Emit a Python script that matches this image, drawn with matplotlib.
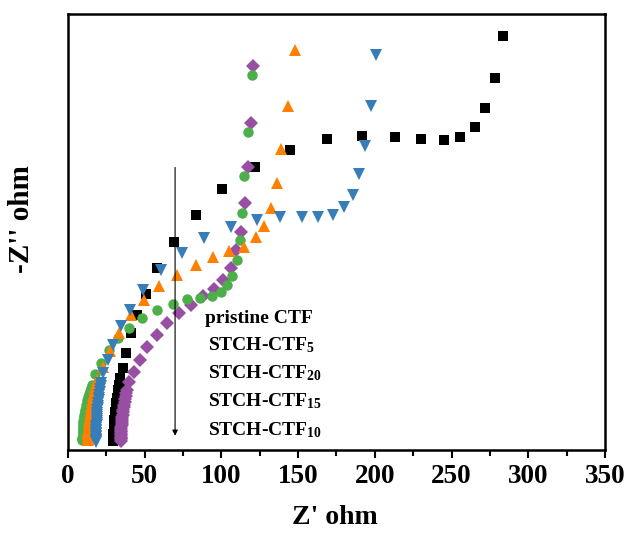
import matplotlib
matplotlib.use("Agg")
import matplotlib.pyplot as plt
from matplotlib.ticker import MultipleLocator

plt.rcParams["font.family"] = ["Liberation Serif", "DejaVu Serif"]
plt.rcParams["font.weight"] = "bold"
plt.rcParams["mathtext.fontset"] = "custom"
plt.rcParams["mathtext.rm"] = "Liberation Serif:bold"
plt.rcParams["mathtext.it"] = "Liberation Serif:bold"

# pristine CTF
x_pristine = [283.6, 278.4, 271.8, 265.3, 255.5, 245.1, 230.1, 213.2, 191.7, 168.8,
              144.7, 121.9, 100.4, 83.4, 69.1, 58.0, 50.8, 45.0, 41.1, 37.8, 35.9, 33.9,
              33.6, 33.3, 33.0, 32.8, 32.5, 32.3, 32.0, 31.8, 31.6, 31.4,
              31.2, 31.0, 30.9, 30.7, 30.6, 30.4, 30.3, 30.2, 30.1, 30.0,
              29.9, 29.8, 29.7, 29.7, 29.6, 29.5, 29.5, 29.4, 29.4, 29.3, 29.3]
y_pristine = [269.9, 242.5, 222.9, 210.6, 204.0, 202.1, 202.7, 204.0, 204.7, 202.7,
              195.6, 184.5, 170.1, 153.2, 135.6, 118.6, 101.7, 88.0, 76.3, 63.2, 53.5, 46.9,
              44.5, 42.5, 40.6, 38.8, 37.0, 35.3, 33.6, 32.0, 30.4, 28.9,
              27.4, 26.0, 24.6, 23.2, 21.9, 20.6, 19.4, 18.2, 17.0, 15.9,
              14.8, 13.7, 12.7, 11.7, 10.7, 9.8, 8.9, 8.0, 7.2, 6.4, 5.6]

# STCH-CTF5
x_ctf5 = [148.0, 143.4, 138.9, 136.2, 132.3, 127.8, 122.6, 114.7, 105.0, 94.5, 83.4,
          71.1, 59.3, 49.5, 41.1, 33.2, 27.4, 22.8, 18.9,
          18.3, 17.8, 17.3, 16.9, 16.5, 16.1, 15.8, 15.5, 15.2, 14.9,
          14.7, 14.5, 14.3, 14.1, 13.9, 13.8, 13.6, 13.5, 13.4, 13.3,
          13.2, 13.1, 13.0, 12.9, 12.9, 12.8, 12.8]
y_ctf5 = [260.8, 224.3, 196.2, 174.1, 157.8, 146.0, 138.9, 132.3, 129.7, 125.8, 120.6,
          114.1, 106.9, 97.8, 88.0, 76.3, 64.5, 54.1, 45.6,
          43.2, 41.0, 38.9, 36.9, 35.0, 33.1, 31.3, 29.6, 27.9, 26.3,
          24.7, 23.2, 21.8, 20.4, 19.0, 17.7, 16.5, 15.3, 14.1, 13.0,
          11.9, 10.9, 9.9, 9.0, 8.1, 7.2, 6.4]

# STCH-CTF20
x_ctf20 = [200.8, 197.5, 193.6, 189.7, 185.8, 179.9, 172.8, 163.0, 152.5, 138.2, 123.2,
           106.3, 88.7, 74.3, 60.6, 48.9, 40.4, 34.6, 29.3, 26.1, 22.8, 21.5,
           21.2, 20.9, 20.6, 20.4, 20.1, 19.9, 19.7, 19.5, 19.4, 19.2,
           19.1, 19.0, 18.9, 18.8, 18.7, 18.6, 18.6, 18.5, 18.5, 18.4,
           18.4, 18.4, 18.3, 18.3, 18.3, 18.3, 18.3, 18.3, 18.3]
y_ctf20 = [257.5, 224.3, 198.2, 179.9, 166.2, 158.4, 153.2, 151.9, 151.9, 151.9, 149.9,
           145.4, 138.2, 128.4, 117.3, 104.3, 91.3, 80.8, 68.4, 58.7, 50.2, 43.7,
           41.6, 39.6, 37.7, 35.8, 34.0, 32.3, 30.6, 29.0, 27.4, 25.9,
           24.4, 23.0, 21.6, 20.3, 19.0, 17.8, 16.6, 15.4, 14.3, 13.2,
           12.2, 11.2, 10.2, 9.3, 8.4, 7.5, 6.7, 5.9, 5.1]

# STCH-CTF15
x_ctf15 = [119.9, 117.3, 114.7, 113.4, 112.1, 110.2, 106.9, 103.7, 99.7, 93.9, 86.0,
           77.6, 68.4, 58.0, 48.2, 39.8, 32.6, 26.7, 21.5, 17.6, 15.6,
           14.9, 14.3, 13.7, 13.2, 12.7, 12.3, 11.9, 11.5, 11.2, 10.9,
           10.7, 10.5, 10.3, 10.1, 10.0, 9.9, 9.8, 9.7, 9.6, 9.6,
           9.5, 9.5, 9.5, 9.4, 9.4, 9.4]
y_ctf15 = [244.5, 207.3, 178.6, 154.5, 136.9, 123.9, 113.4, 107.6, 103.0, 100.4, 99.1,
           98.4, 95.2, 91.3, 86.0, 79.5, 73.0, 65.2, 56.7, 49.5, 42.4,
           40.2, 38.2, 36.3, 34.4, 32.6, 30.9, 29.2, 27.6, 26.0, 24.5,
           23.0, 21.6, 20.2, 18.9, 17.6, 16.4, 15.2, 14.0, 12.9, 11.8,
           10.8, 9.8, 8.9, 8.0, 7.1, 6.3]

# STCH-CTF10
x_ctf10 = [120.6, 119.3, 117.3, 115.4, 112.8, 109.5, 106.3, 101.0, 95.2, 88.0, 80.2,
           72.4, 64.5, 58.0, 51.5, 46.9, 43.0, 39.8, 38.5,
           38.1, 37.7, 37.3, 37.0, 36.7, 36.4, 36.1, 35.9, 35.7, 35.5,
           35.3, 35.1, 35.0, 34.9, 34.8, 34.7, 34.6, 34.5, 34.5, 34.4,
           34.4, 34.3, 34.3, 34.3]
y_ctf10 = [250.3, 213.2, 184.5, 161.0, 142.1, 130.4, 118.6, 110.8, 105.0, 100.4, 94.5,
           89.3, 82.8, 75.0, 67.1, 58.7, 50.8, 44.3, 39.1,
           37.0, 35.0, 33.1, 31.3, 29.5, 27.8, 26.2, 24.6, 23.1, 21.6,
           20.2, 18.8, 17.5, 16.2, 15.0, 13.8, 12.7, 11.6, 10.6, 9.6,
           8.7, 7.8, 6.9, 6.1]

labels = ["pristine CTF", "STCH-CTF$_{5}$", "STCH-CTF$_{20}$",
          "STCH-CTF$_{15}$", "STCH-CTF$_{10}$"]

fig = plt.figure(figsize=(6.29, 5.33), dpi=100)
ax = fig.add_axes([0.1081, 0.1557, 0.8537, 0.818])

ax.plot(x_pristine, y_pristine, "s", color="#000000", ms=7, mew=0, zorder=3)
ax.plot(x_ctf10, y_ctf10, "D", color="#984EA3", ms=7, mew=0, zorder=3)
ax.plot(x_ctf15, y_ctf15, "o", color="#4DAF4A", ms=7.5, mew=0, zorder=3)
ax.plot(x_ctf5, y_ctf5, "^", color="#FF7F00", ms=9, mew=0, zorder=3)
ax.plot(x_ctf20, y_ctf20, "v", color="#377EB8", ms=9, mew=0, zorder=3)

# arrow
ax.annotate("", xy=(69.8, 7.5), xytext=(69.8, 186),
            arrowprops=dict(arrowstyle="-|>", lw=0.8, color="k", mutation_scale=8))

# label column
ax.text(89.3, 86.0, labels[0], fontsize=14, fontweight="bold", va="center")
for lab, yy in zip(labels[1:], [68.4, 50.2, 31.9, 13.0]):
    ax.text(91.3, yy, lab, fontsize=14, fontweight="bold", va="center")

ax.set_xlim(0, 350)
ax.set_ylim(0, 284.2)
ax.xaxis.set_major_locator(MultipleLocator(50))
ax.xaxis.set_minor_locator(MultipleLocator(25))
ax.tick_params(axis="x", which="major", direction="out", length=6, width=1.5,
               labelsize=19.5, pad=4)
ax.tick_params(axis="x", which="minor", direction="out", length=4, width=1.5)
ax.set_yticks([])
for sp in ax.spines.values():
    sp.set_linewidth(1.8)

ax.set_xlabel("Z' ohm", fontsize=20, fontweight="bold")
ax.set_ylabel("-Z'' ohm", fontsize=21, fontweight="bold")
ax.xaxis.set_label_coords(0.497, -0.125)
ax.yaxis.set_label_coords(-0.062, 0.53)

fig.savefig("out.png", dpi=100)
